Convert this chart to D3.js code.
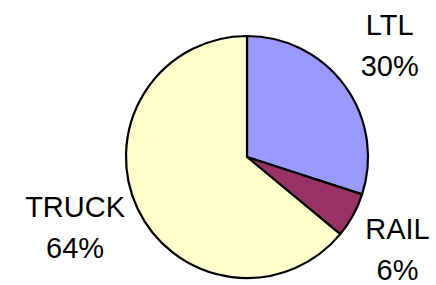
<!DOCTYPE html>
<html>
<head>
<meta charset="utf-8">
<script src="https://cdn.jsdelivr.net/npm/d3@7"></script>
<style>
  body { margin: 0; background: #fff; }
  svg { display: block; }
  .pie-label { font-family: "Liberation Sans", Arial, sans-serif; font-size: 29px; fill: #000; }
</style>
</head>
<body>
<svg id="pie-chart"></svg>
<script>
// data
const categories = ["LTL", "RAIL", "TRUCK"];
const shares = [30, 6, 64];
const colors = ["#9999FF", "#993366", "#FFFFCC"];

// layout
const width = 436, height = 285;
const cx = 247, cy = 157, radius = 121;
const labelRadius = 190;
// Excel nudges its labels a bit, so small per-label offsets
const labelNudge = [[-11, 0], [-16, 0], [0, -11]];

const svg = d3.select("#pie-chart")
    .attr("width", width)
    .attr("height", height);

const g = svg.append("g")
    .attr("transform", `translate(${cx},${cy})`);

const pie = d3.pie()
    .sort(null)
    .value(d => d.value);

const data = categories.map((c, i) => ({ name: c, value: shares[i], color: colors[i], i }));
const arcs = pie(data);

const arc = d3.arc().innerRadius(0).outerRadius(radius);
const labelArc = d3.arc().innerRadius(labelRadius).outerRadius(labelRadius);

g.selectAll("path")
    .data(arcs)
    .join("path")
    .attr("d", arc)
    .attr("fill", d => d.data.color)
    .attr("stroke", "#000")
    .attr("stroke-width", 2.2)
    .attr("stroke-linejoin", "round");

const labels = g.selectAll("text")
    .data(arcs)
    .join("text")
    .attr("class", "pie-label")
    .attr("text-anchor", "middle")
    .attr("transform", d => {
        const [x, y] = labelArc.centroid(d);
        const [dx, dy] = labelNudge[d.data.i];
        return `translate(${x + dx},${y + dy})`;
    });

labels.append("tspan")
    .attr("x", 0)
    .attr("y", -10)
    .text(d => d.data.name);

labels.append("tspan")
    .attr("x", 0)
    .attr("y", 31)
    .text(d => `${d.data.value}%`);
</script>
</body>
</html>
